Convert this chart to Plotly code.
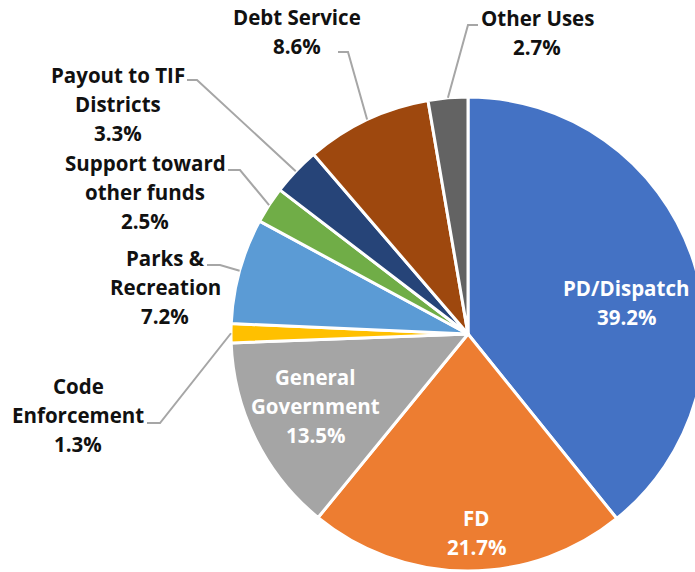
import math
import plotly.graph_objects as go

# budget share by use, clockwise from 12 o'clock
categories = ["PD/Dispatch", "FD", "General Government", "Code Enforcement",
              "Parks & Recreation", "Support toward other funds",
              "Payout to TIF Districts", "Debt Service", "Other Uses"]
shares = [39.2, 21.7, 13.5, 1.3, 7.2, 2.5, 3.3, 8.6, 2.7]
colors = ["#4472C4", "#ED7D31", "#A5A5A5", "#FFC000", "#5B9BD5",
          "#70AD47", "#264478", "#9E480E", "#636363"]

# how each label is broken into lines on the chart
label_lines = [["PD/Dispatch"], ["FD"], ["General", "Government"],
               ["Code", "Enforcement"], ["Parks &", "Recreation"],
               ["Support toward", "other funds"], ["Payout to TIF", "Districts"],
               ["Debt Service"], ["Other Uses"]]

W, H = 710, 572
CX, CY, R = 468, 334, 237   # pie centre / radius in px
LINE = 29                   # label line spacing, px

# label block: centre x, first line y (px); leader: start x, elbow x, y (px) or None
label_place = [
    (626, 288, None),
    (476, 518, None),
    (315, 377, None),
    (78, 386, (147, 160, 423)),
    (165, 258, (207, 220, 265)),
    (145, 163, (228, 240, 170)),
    (118, 75, (187, 197, 80)),
    (297, 17, (338, 348, 52)),
    (537, 18, (478, 468, 25)),
]

fig = go.Figure()
fig.add_trace(go.Pie(
    labels=categories,
    values=shares,
    sort=False,
    direction="clockwise",
    rotation=0,
    marker=dict(colors=colors, line=dict(color="white", width=3)),
    textinfo="none",
    hoverinfo="label+percent",
    showlegend=False,
    domain=dict(x=[(CX - R) / W, (CX + R) / W],
                y=[1 - (CY + R) / H, 1 - (CY - R) / H]),
))


def px(x, y):
    return x / W, 1 - y / H


font = "'Open Sans', Lato, sans-serif"
annotations = []
shapes = []
cum = 0
for name, val, lines, (lx, ly, leader) in zip(categories, shares, label_lines, label_place):
    mid = (cum + val / 2) / sum(shares) * 2 * math.pi
    cum += val
    inside = leader is None
    col = "white" if inside else "#111111"
    for i, t in enumerate(lines + [f"{val:.1f}%"]):
        x, y = px(lx, ly + i * LINE)
        annotations.append(dict(x=x, y=y, xref="paper", yref="paper", text=f"<b>{t}</b>",
                                showarrow=False, xanchor="center", yanchor="middle",
                                font=dict(family=font, size=20.5, color=col)))
    if leader:
        sx, ex, yy = leader
        rx = CX + R * math.sin(mid)
        ry = CY - R * math.cos(mid)
        pts = [px(sx, yy), px(ex, yy), px(rx, ry)]
        path = "M " + " L ".join(f"{a:.5f},{b:.5f}" for a, b in pts)
        shapes.append(dict(type="path", path=path, xref="paper", yref="paper",
                           line=dict(color="#A6A6A6", width=2)))

fig.update_layout(
    width=W, height=H,
    margin=dict(l=0, r=0, t=0, b=0),
    paper_bgcolor="white",
    plot_bgcolor="white",
    annotations=annotations,
    shapes=shapes,
)

fig.write_html("out.html", config={"displayModeBar": False},
               post_script="document.body.style.margin='0';document.body.style.overflow='hidden';")
